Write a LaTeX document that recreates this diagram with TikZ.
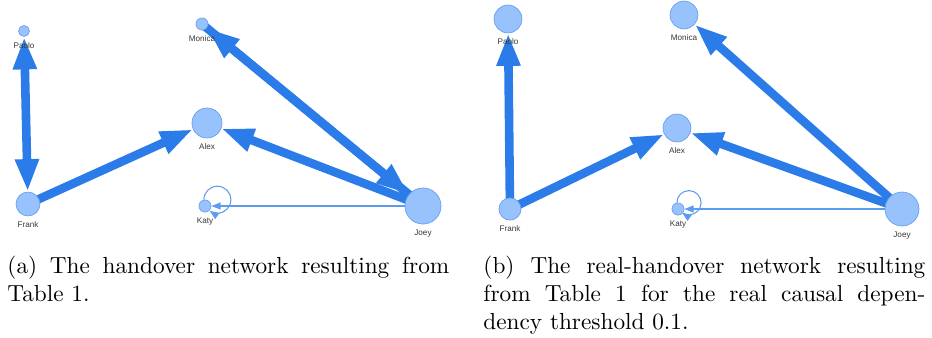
\documentclass[tikz,border=0pt]{standalone}
\usepackage{fontspec}
\newfontfamily\netfont{Liberation Sans}
\usepackage{xcolor}
\usepackage{tikz}
\usetikzlibrary{arrows.meta}

\definecolor{nodefill}{RGB}{151,194,252}
\definecolor{nodeborder}{RGB}{105,158,238}
\definecolor{edgeblue}{RGB}{43,124,233}
\definecolor{thinblue}{RGB}{92,155,238}
\definecolor{labelgray}{RGB}{55,55,55}

\pgfdeclarelayer{edges}
\pgfsetlayers{edges,main}

\begin{document}
\begin{tikzpicture}[
    x=0.43pt, y=0.43pt,
    netnode/.style = {circle, draw=nodeborder, fill=nodefill, line width=0.3pt, inner sep=0pt},
    netlabel/.style = {font=\netfont\fontsize{3.5pt}{4pt}\selectfont, text=labelgray, inner sep=0pt, label distance=2.2pt},
    thickedge/.style = {draw=edgeblue, line width=3.7pt, -{Triangle[length=14pt, width=9.5pt]}},
    thickboth/.style = {thickedge, {Triangle[length=14pt, width=9.5pt]}-{Triangle[length=14pt, width=9.5pt]}},
    thinedge/.style = {draw=thinblue, line width=0.45pt, -{Triangle[length=4pt, width=3pt]}},
    subcap/.style = {text width=190pt, align=justify, inner sep=0pt, anchor=north west, font=\normalsize}
]
    \useasboundingbox (0,0) rectangle (932,-337);

    % (a) handover network
    \node[netnode, minimum size=4.7pt, label={[netlabel]below:Paolo}] (paoloA) at (24,-31) {};
    \node[netnode, minimum size=5.2pt, label={[netlabel]below:Monica}] (monicaA) at (202,-24) {};
    \node[netnode, minimum size=12.9pt, label={[netlabel]below:Alex}] (alexA) at (207,-123) {};
    \node[netnode, minimum size=10.3pt, label={[netlabel]below:Frank}] (frankA) at (28,-204) {};
    \node[netnode, minimum size=5.2pt, label={[netlabel]below:Katy}] (katyA) at (205,-206) {};
    \node[netnode, minimum size=15.5pt, label={[netlabel]below:Joey}] (joeyA) at (423,-206) {};

    \begin{pgfonlayer}{edges}
        \draw[thickboth] (frankA) -- (paoloA);
        \draw[thickedge] (frankA.center) -- (alexA);
        \draw[thickedge] (joeyA.center) -- (alexA);
        \draw[thickedge] (joeyA.center) -- (monicaA);
        \draw[thickedge] (monicaA.center) -- (joeyA);
        \draw[thinedge] (joeyA.center) -- (katyA);
        \draw[thinedge] (katyA.100) arc[start angle=180, end angle=-125, radius=5.8pt];
    \end{pgfonlayer}

    % (b) real-handover network
    \node[netnode, minimum size=12pt, label={[netlabel]below:Paolo}] (paoloB) at (508,-19) {};
    \node[netnode, minimum size=12pt, label={[netlabel]below:Monica}] (monicaB) at (684,-15) {};
    \node[netnode, minimum size=12pt, label={[netlabel]below:Alex}] (alexB) at (677,-128) {};
    \node[netnode, minimum size=9.5pt, label={[netlabel]below:Frank}] (frankB) at (510,-209) {};
    \node[netnode, minimum size=5.2pt, label={[netlabel]below:Katy}] (katyB) at (678,-209) {};
    \node[netnode, minimum size=14.6pt, label={[netlabel]below:Joey}] (joeyB) at (902,-209) {};

    \begin{pgfonlayer}{edges}
        \draw[thickedge] (frankB.center) -- (paoloB);
        \draw[thickedge] (frankB.center) -- (alexB);
        \draw[thickedge] (joeyB.center) -- (alexB);
        \draw[thickedge] (joeyB.center) -- (monicaB);
        \draw[thinedge] (joeyB.center) -- (katyB);
        \draw[thinedge] (katyB.100) arc[start angle=180, end angle=-125, radius=5.2pt];
    \end{pgfonlayer}

    % captions
    \node[subcap] (capA) at (7,-256) {(a) The handover network resulting from Table~1.};
    \node[subcap] (capB) at (483,-256) {(b) The real-handover network resulting from Table~1 for the real causal depen-\linebreak dency threshold 0.1.};
\end{tikzpicture}
\end{document}
